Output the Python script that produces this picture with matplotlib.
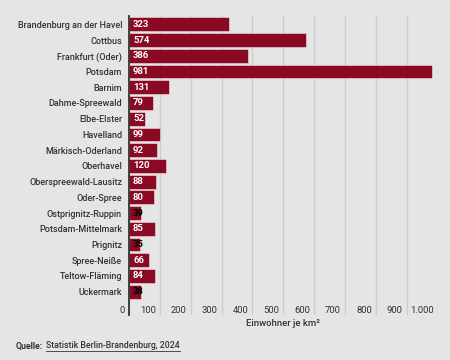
import matplotlib
matplotlib.use("Agg")
import matplotlib.pyplot as plt
from matplotlib.transforms import ScaledTranslation

plt.rcParams["font.family"] = ["Roboto", "DejaVu Sans"]

# --- Daten ---
kreise = [
    "Brandenburg an der Havel", "Cottbus", "Frankfurt (Oder)", "Potsdam",
    "Barnim", "Dahme-Spreewald", "Elbe-Elster", "Havelland",
    "Märkisch-Oderland", "Oberhavel", "Oberspreewald-Lausitz", "Oder-Spree",
    "Ostprignitz-Ruppin", "Potsdam-Mittelmark", "Prignitz", "Spree-Neiße",
    "Teltow-Fläming", "Uckermark",
]
dichte = [323, 574, 386, 981, 131, 79, 52, 99, 92, 120, 88, 80, 39, 85, 35, 66, 84, 38]
xticks = [0, 100, 200, 300, 400, 500, 600, 700, 800, 900, 1000]
xtick_labels = ["0", "100", "200", "300", "400", "500", "600", "700", "800", "900", "1.000"]

bg = "#e5e5e5"
rot = "#8a0a24"
text_col = "#333333"

fig = plt.figure(figsize=(4.5, 3.6), dpi=100, facecolor=bg)
ax = fig.add_axes([129 / 450, 45 / 360, 308.5 / 450, 299 / 360], facecolor=bg)

pos = list(range(len(kreise)))
ax.barh(pos, dichte, height=0.88, color=rot, edgecolor=(1, 1, 1, 0.45), linewidth=0.7, zorder=3)

ax.set_xlim(0, 1000)
ax.set_ylim(len(kreise) - 1 + 1.48, -0.53)

# Kategorien
ax.set_yticks(pos)
ax.set_yticklabels(kreise, fontsize=6.5, color=text_col, fontweight="medium")
ax.tick_params(axis="y", length=0, pad=5)

# Werte in den Balken
for i, v in enumerate(dichte):
    farbe = "white" if v >= 50 else "black"
    ax.annotate(str(v), (0, i), xytext=(4, 0), textcoords="offset pixels",
                va="center", ha="left", fontsize=6.8, fontweight="bold",
                color=farbe, zorder=4)

# Raster + Achse
ax.set_xticks(xticks)
ax.set_xticklabels(xtick_labels, fontsize=6.8, color=text_col)
ax.tick_params(axis="x", length=0, direction="in", pad=-6.8)
for lab in ax.get_xticklabels():
    lab.set_horizontalalignment("right")
    lab.set_transform(lab.get_transform() + ScaledTranslation(-0.04, 0, fig.dpi_scale_trans))
ax.grid(axis="x", color="#cdcdcd", linewidth=1, zorder=0)
ax.grid(axis="y", visible=False)
for s in ["top", "right", "bottom"]:
    ax.spines[s].set_visible(False)
ax.spines["left"].set_color(text_col)
ax.spines["left"].set_linewidth(1.3)
ax.spines["left"].set_zorder(5)

ax.text(0.5, -0.03, "Einwohner je km²", transform=ax.transAxes, ha="center", va="center",
        fontsize=6.8, color=text_col, fontweight="medium")

# Quelle
t1 = fig.text(16 / 450, 1 - 346 / 360, "Quelle:", fontsize=6.3, fontweight="bold",
              color=text_col, va="center", ha="left")
fig.canvas.draw()
r = fig.canvas.get_renderer()
bb = t1.get_window_extent(r)
t2 = fig.text((bb.x1 + 3) / 450, 1 - 346 / 360, "Statistik Berlin-Brandenburg, 2024", fontsize=6.3,
              fontweight="medium", color=text_col, va="center", ha="left")
bb2 = t2.get_window_extent(r)
y_line = (bb2.y0 - 0.5) / 360
fig.add_artist(plt.Line2D([bb2.x0 / 450, bb2.x1 / 450], [y_line, y_line],
                          color=text_col, linewidth=0.6))

fig.savefig("out.png", dpi=100, facecolor=bg)
